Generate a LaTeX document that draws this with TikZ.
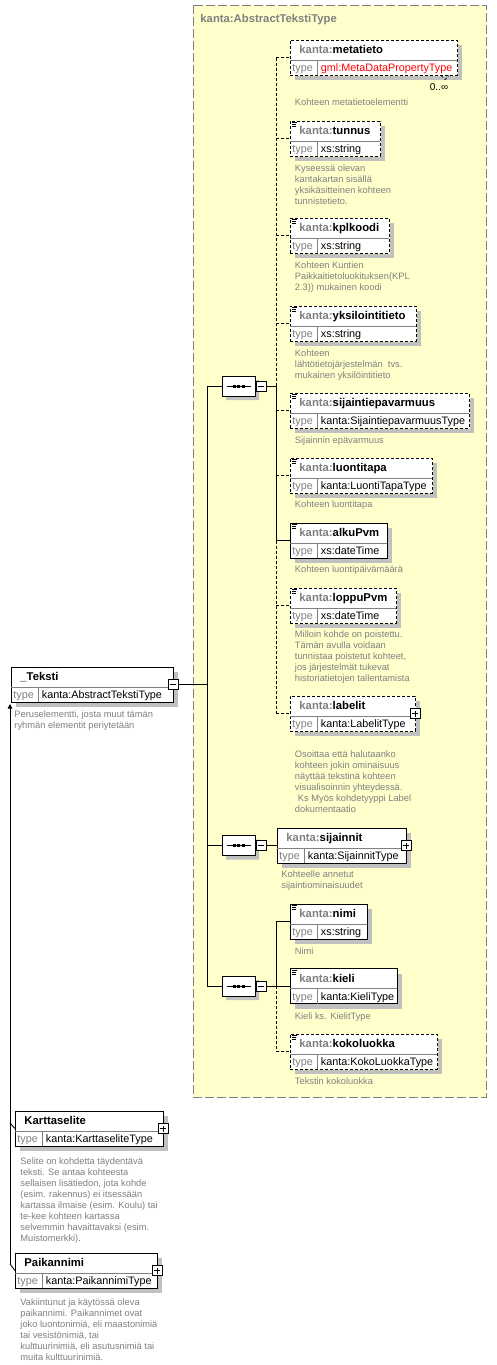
\documentclass[tikz,border=0pt]{standalone}
\usepackage{fontspec}
\setmainfont{Liberation Sans}
\usetikzlibrary{calc,shapes.misc,arrows.meta}
\definecolor{yel}{HTML}{FFFFCC}
\definecolor{shd}{HTML}{C0C0C0}
\definecolor{dsc}{HTML}{808080}
\tikzset{
  optl/.style={dash pattern=on 3pt off 2pt},
  reqd/.style={solid},
  ebox/.style={draw=black, fill=white, inner sep=0pt, outer sep=0pt, anchor=north west, minimum height=35pt},
  innerln/.style={draw=dsc, solid},
  nmtext/.style={anchor=base west, inner sep=0pt, font=\fontsize{11.3}{13}\selectfont\bfseries},
  tltext/.style={anchor=base west, inner sep=0pt, text=dsc, font=\fontsize{10.8}{13}\selectfont},
  tvtext/.style={anchor=base west, inner sep=0pt, font=\fontsize{10.8}{13}\selectfont},
  desc/.style={anchor=north west, inner sep=0pt, text=dsc, align=left, font=\fontsize{9.3}{11}\selectfont},
  ttltext/.style={anchor=base west, inner sep=0pt, text=dsc, font=\fontsize{11.3}{13}\selectfont\bfseries},
  mbox/.style={draw=black, fill=white, minimum size=10pt, inner sep=0pt, outer sep=0pt, solid},
  seqshape/.style={chamfered rectangle, chamfered rectangle xsep=5pt, chamfered rectangle ysep=5pt, minimum width=33pt, minimum height=20pt, inner sep=0pt, outer sep=0pt},
  seqbox/.style={seqshape, draw=black, fill=white},
  seqshd/.style={seqshape, fill=shd, draw=none},
}
\newcommand\elm[8]{%
  \node[ebox,#5,minimum width=#4pt] (#1) at (#2,#3) {};
  \draw[innerln] ({#2},{#3+20}) -- ({#2+#4},{#3+20}) ({#2+27},{#3+20}) -- ({#2+27},{#3+35});
  \node[nmtext] (#1-n) at ({#2+9},{#3+13.5}) {\textcolor{dsc}{#6}#7};
  \node[tltext] (#1-t) at ({#2+2},{#3+31.5}) {type};
  \node[tvtext] (#1-v) at ({#2+30.5},{#3+31.5}) {#8};
}
\newcommand\shl[3]{\fill[shd] ({#1+#3+0.5},{#2+5}) rectangle ({#1+#3+5},{#2+40});
  \fill[shd] ({#1+5},{#2+35.5}) rectangle ({#1+#3+0.5},{#2+40});}
\newcommand\minusat[2]{\node[mbox] (#1) at (#2) {};
  \draw ($(#1.west)+(2,0)$) -- ($(#1.east)+(-2,0)$);}
\newcommand\plusat[2]{\node[mbox] (#1) at (#2) {};
  \draw ($(#1.west)+(2,0)$) -- ($(#1.east)+(-2,0)$) ($(#1.north)+(0,2)$) -- ($(#1.south)+(0,-2)$);}
\newcommand\ico[1]{\draw[line width=0.7pt,solid] ($(#1.north west)+(2,1.5)$) -- +(5,0) ($(#1.north west)+(2,3.5)$) -- +(4,0) ($(#1.north west)+(2,5.5)$) -- +(4,0);}
\newcommand\dsc[4]{\node[desc] (#1) at (#2,{#3-7}) {\rule{0pt}{7pt}#4};}
\newcommand\seqnode[2]{% name, y
  \node[seqshd] (#1s) at (242.5,{#2+4}) {};
  \node[seqbox] (#1) at (238.5,#2) {};
  \minusat{#1m}{261,#2}
  \draw ($(#1.center)+(-12,0)$) -- ($(#1.center)+(12,0)$);
  \foreach \dx in {-4.5,0,4.5}{\fill ($(#1.center)+(\dx-1.5,-1.5)$) rectangle +(3,3);}}
\begin{document}
\begin{tikzpicture}[x=1pt,y=-1pt,line width=0.9pt]
\useasboundingbox (0,0) rectangle (497,1365);
\fill[white] (0,0) rectangle (497,1365);
\draw[dsc, fill=yel, dash pattern=on 9pt off 3pt] (193,5) rectangle (486,1097);
\node[ttltext] (title) at (200,23) {kanta:AbstractTekstiType};

% elements
\elm{meta}{290}{40}{167}{optl}{kanta:}{metatieto}{\textcolor{red}{gml:MetaDataPropertyType}}
\elm{tun}{290}{121}{90}{optl}{kanta:}{tunnus}{xs:string}\ico{tun}
\elm{kpl}{290}{218}{99}{optl}{kanta:}{kplkoodi}{xs:string}\ico{kpl}
\elm{yks}{290}{306}{126}{optl}{kanta:}{yksilointitieto}{xs:string}\ico{yks}
\elm{sep}{290}{393}{179}{optl}{kanta:}{sijaintiepavarmuus}{kanta:SijaintiepavarmuusType}\ico{sep}
\elm{lt}{290}{458}{142}{optl}{kanta:}{luontitapa}{kanta:LuontiTapaType}\ico{lt}
\elm{alku}{290}{523}{97}{reqd}{kanta:}{alkuPvm}{xs:dateTime}\ico{alku}
\elm{lop}{290}{588}{106}{optl}{kanta:}{loppuPvm}{xs:dateTime}\ico{lop}
\elm{lab}{290}{696}{125}{optl}{kanta:}{labelit}{kanta:LabelitType}
\elm{sij}{277}{828}{129}{reqd}{kanta:}{sijainnit}{kanta:SijainnitType}
\elm{nimi}{290}{904}{77}{reqd}{kanta:}{nimi}{xs:string}\ico{nimi}
\elm{kieli}{290}{968.5}{107}{reqd}{kanta:}{kieli}{kanta:KieliType}\ico{kieli}
\elm{koko}{290}{1034}{147}{optl}{kanta:}{kokoluokka}{kanta:KokoLuokkaType}\ico{koko}
\elm{tek}{11}{667}{162}{reqd}{}{\_Teksti}{kanta:AbstractTekstiType}
\elm{kart}{15}{1111}{148}{reqd}{}{Karttaselite}{kanta:KarttaseliteType}
\elm{pn}{15}{1253}{142}{reqd}{}{Paikannimi}{kanta:PaikannimiType}

% descriptions
\dsc{d-meta}{294.5}{105.5}{Kohteen metatietoelementti}
\dsc{d-tun}{294.5}{171.5}{Kyseessä olevan\\kantakartan sisällä\\yksikäsitteinen kohteen\\tunnistetieto.}
\dsc{d-kpl}{294.5}{268.5}{Kohteen Kuntien\\Paikkaitietoluokituksen(KPL\\2.3)) mukainen koodi}
\dsc{d-yks}{294.5}{356.5}{Kohteen\\lähtötietojärjestelmän\ \ tvs.\\mukainen yksilöintitieto}
\dsc{d-sep}{294.5}{443.5}{Sijainnin epävarmuus}
\dsc{d-lt}{294.5}{507.5}{Kohteen luontitapa}
\dsc{d-alku}{294.5}{572.5}{Kohteen luontipäivämäärä}
\dsc{d-lop}{294.5}{637.5}{Milloin kohde on poistettu.\\Tämän avulla voidaan\\tunnistaa poistetut kohteet,\\jos järjestelmät tukevat\\historiatietojen tallentamista}
\dsc{d-lab}{294.5}{757.5}{Osoittaa että halutaanko\\kohteen jokin ominaisuus\\näyttää tekstinä kohteen\\visualisoinnin yhteydessä.\\\hspace*{3pt}Ks Myös kohdetyyppi Label\\dokumentaatio}
\dsc{d-sij}{281}{877.5}{Kohteelle annetut\\sijaintiominaisuudet}
\dsc{d-nimi}{294.5}{954.5}{Nimi}
\dsc{d-kieli}{294.5}{1019.5}{Kieli ks. KielitType}
\dsc{d-koko}{294.5}{1084.5}{Tekstin kokoluokka}
\dsc{d-tek}{14}{717.5}{Peruselementti, josta muut tämän\\ryhmän elementit periytetään}
\dsc{d-kart}{20}{1164.5}{Selite on kohdetta täydentävä\\teksti. Se antaa kohteesta\\sellaisen lisätiedon, jota kohde\\(esim. rakennus) ei itsessään\\kartassa ilmaise (esim. Koulu) tai\\te-kee kohteen kartassa\\selvemmin havaittavaksi (esim.\\Muistomerkki).}
\dsc{d-pn}{20}{1305.5}{Vakiintunut ja käytössä oleva\\paikannimi. Paikannimet ovat\\joko luontonimiä, eli maastonimiä\\tai vesistönimiä, tai\\kulttuurinimiä, eli asutusnimiä tai\\muita kulttuurinimiä.}

% multiplicity
\node[anchor=base, inner sep=0pt, font=\fontsize{10}{12}\selectfont] (mult) at (439,90.5) {0..∞};

% shadows
\shl{290}{40}{167}
\shl{290}{121}{90}
\shl{290}{218}{99}
\shl{290}{306}{126}
\shl{290}{393}{179}
\shl{290}{458}{142}
\shl{290}{523}{97}
\shl{290}{588}{106}
\shl{290}{696}{125}
\shl{277}{828}{129}
\shl{290}{904}{77}
\shl{290}{968.5}{107}
\shl{290}{1034}{147}
\shl{11}{667}{162}
\shl{15}{1111}{148}
\shl{15}{1253}{142}
\draw[optl, line width=0.7pt] (441,75.5) -- (445,79.5) -- (449,75.5);

% expand / collapse boxes
\plusat{labp}{lab.east}
\plusat{sijp}{sij.east}
\minusat{tekm}{tek.east}
\plusat{kartp}{kart.east}
\plusat{pnp}{pn.east}

% compositors
\seqnode{seq1}{386}
\seqnode{seq2}{845.5}
\seqnode{seq3}{986}

% connector points
\coordinate (b1) at (276,386);
\coordinate (b3) at (276,986);
\coordinate (m1) at (207,386);
\coordinate (m2) at (207,845.5);
\coordinate (m3) at (207,986);
\coordinate (tj) at (207,684.5);
\coordinate (ib) at (10,1264);
\coordinate (it) at (10,704);
\coordinate (ik) at (10,1123);

\draw (seq1m.east) -- (b1);
\draw[optl] (meta.west -| b1) -- (b1);
\draw (b1) -- (alku.west -| b1);
\draw[optl] (alku.west -| b1) -- (lab.west -| b1);
\foreach \e in {meta,tun,kpl,yks,sep,lt,lop,lab} {\draw[optl] (\e.west -| b1) -- (\e.west);}
\draw (alku.west -| b1) -- (alku.west);

\draw (seq2m.east) -- (sij.west);

\draw (seq3m.east) -- (b3);
\draw (nimi.west -| b3) -- (b3);
\draw[optl] (b3) -- (koko.west -| b3);
\draw (nimi.west -| b3) -- (nimi.west);
\draw (kieli.west -| b3) -- (kieli.west);
\draw[optl] (koko.west -| b3) -- (koko.west);

\draw (m1) -- (m3);
\draw (m1) -- (seq1.west);
\draw (m2) -- (seq2.west);
\draw (m3) -- (seq3.west);
\draw (tekm.east) -- (tj);

\draw[-{Triangle[width=4.5pt,length=4.5pt]}] (ib) -- (it);
\draw (ik) -- (kart.west);
\draw (ib) -- (pn.west);
\end{tikzpicture}
\end{document}
